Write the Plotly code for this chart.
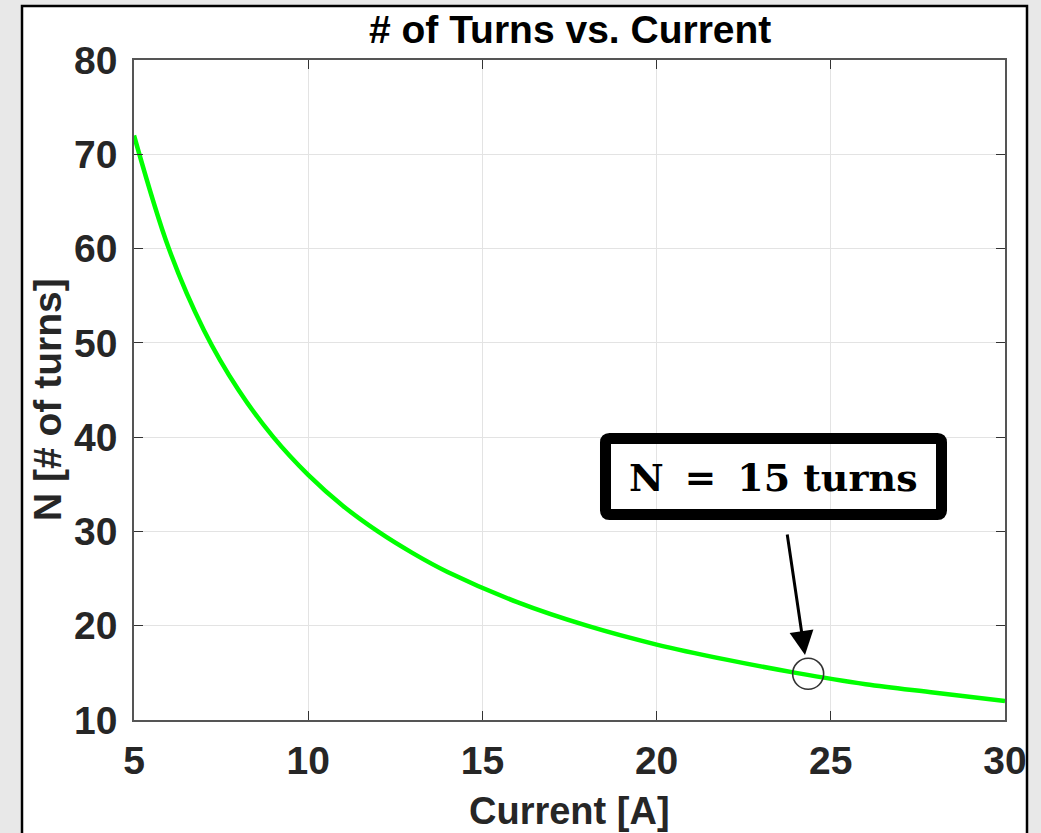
import plotly.graph_objects as go

# Data
current_a = [5, 6, 7, 8, 9, 10, 11, 12, 13, 14, 16, 18, 20, 22, 24, 26, 28, 30]
turns_n = [72, 60, 51.4, 45, 40, 36, 32.7, 30, 27.7, 25.7, 22.5, 20, 18, 16.4, 15, 13.8, 12.9, 12]
marker_x = [24.35]
marker_y = [14.9]
arrow_tip_x = 24.26
arrow_tip_y = 16.9
x_ticks = [5, 10, 15, 20, 25, 30]
y_ticks = [10, 20, 30, 40, 50, 60, 70, 80]
title_text = "# of Turns vs. Current"
x_label = "Current [A]"
y_label = "N [# of turns]"
note_text = "N = 15 turns"

W, H = 1041, 833
L, R, T, B = 134, 36, 60, 113
pw = W - L - R
ph = H - T - B

def px_x(px):
    return (px - L) / pw

def px_y(py):
    return (H - B - py) / ph

def rounded_rect_path(x0, y0, x1, y1, r):
    # pixel corners -> paper-coordinate SVG path with rounded corners
    pts = [
        ("M", px_x(x0 + r), px_y(y0)),
        ("L", px_x(x1 - r), px_y(y0)),
        ("Q", px_x(x1), px_y(y0), px_x(x1), px_y(y0 + r)),
        ("L", px_x(x1), px_y(y1 - r)),
        ("Q", px_x(x1), px_y(y1), px_x(x1 - r), px_y(y1)),
        ("L", px_x(x0 + r), px_y(y1)),
        ("Q", px_x(x0), px_y(y1), px_x(x0), px_y(y1 - r)),
        ("L", px_x(x0), px_y(y0 + r)),
        ("Q", px_x(x0), px_y(y0), px_x(x0 + r), px_y(y0)),
    ]
    out = []
    for p in pts:
        cmd = p[0]
        coords = p[1:]
        pairs = " ".join(f"{coords[i]:.5f},{coords[i+1]:.5f}" for i in range(0, len(coords), 2))
        out.append(f"{cmd}{pairs}")
    return " ".join(out) + " Z"

sans = "Liberation Sans, Arial, sans-serif"

fig = go.Figure()
fig.add_trace(go.Scatter(
    x=current_a, y=turns_n, mode="lines",
    line=dict(color="#00ff00", width=4.5, shape="spline"),
    showlegend=False, hoverinfo="skip"))
fig.add_trace(go.Scatter(
    x=marker_x, y=marker_y, mode="markers",
    marker=dict(symbol="circle-open", size=31, color="#333333", line=dict(width=1.6, color="#333333")),
    showlegend=False, hoverinfo="skip"))

axis_common = dict(
    showline=True, linecolor="#555555", linewidth=1.5, mirror="allticks",
    ticks="inside", ticklen=9, tickwidth=1.2, tickcolor="#333333",
    showgrid=True, gridcolor="#e3e3e3", gridwidth=1,
    zeroline=False,
    tickfont=dict(family=sans, size=39, color="#262626", weight="bold"),
)

fig.update_xaxes(range=[5, 30], tickvals=x_ticks, ticklabelstandoff=5, **axis_common)
fig.update_yaxes(range=[10, 80], tickvals=y_ticks, ticklabelstandoff=7, **axis_common)

fig.update_layout(
    width=W, height=H,
    margin=dict(l=L, r=R, t=T, b=B, pad=0),
    paper_bgcolor="#e8e8e8", plot_bgcolor="white",
    shapes=[
        dict(type="rect", xref="paper", yref="paper",
             x0=px_x(22), x1=px_x(1027), y0=px_y(900), y1=px_y(6),
             fillcolor="white", line=dict(color="black", width=2.5), layer="below"),
        dict(type="path", xref="paper", yref="paper",
             path=rounded_rect_path(605.5, 438.5, 941.5, 514.5, 4),
             fillcolor="rgba(0,0,0,0)", line=dict(color="black", width=11), layer="above"),
    ],
    annotations=[
        dict(text=title_text, xref="paper", yref="paper", x=0.5, y=px_y(29),
             xanchor="center", yanchor="middle", showarrow=False,
             font=dict(family=sans, size=39, color="black", weight="bold")),
        dict(text=x_label, xref="paper", yref="paper", x=0.5, y=px_y(811),
             xanchor="center", yanchor="middle", showarrow=False,
             font=dict(family=sans, size=38, color="#262626", weight="bold")),
        dict(text=y_label, xref="paper", yref="paper", x=px_x(47), y=px_y(400),
             xanchor="center", yanchor="middle", showarrow=False, textangle=-90,
             font=dict(family=sans, size=39, color="#262626", weight="bold")),
        # arrow (offsets in pixels from the tip)
        dict(text="", x=arrow_tip_x, y=arrow_tip_y, xref="x", yref="y", showarrow=True,
             ax=-18, ay=-122,
             arrowhead=2, arrowsize=1.6, arrowwidth=3, arrowcolor="black"),
        # text inside the rounded box
        dict(text="<b>" + note_text.replace(" = ", "\u2009 = \u2009") + "</b>",
             xref="paper", yref="paper", x=px_x(773.5), y=px_y(477),
             xanchor="center", yanchor="middle", showarrow=False,
             font=dict(family="DejaVu Serif, serif", size=38, color="black")),
    ],
)

fig.write_html("out.html")
